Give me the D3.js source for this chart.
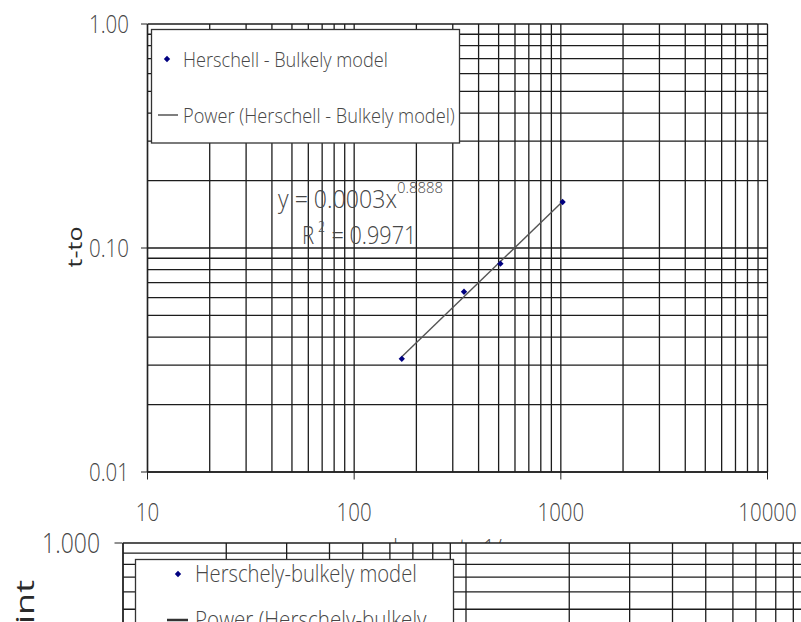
<!DOCTYPE html>
<html>
<head>
<meta charset="utf-8">
<script src="https://cdn.jsdelivr.net/npm/d3@7"></script>
<style>
  body { margin: 0; background: #fff; }
  svg { display: block; }
  text { font-family: "Open Sans", sans-serif; font-weight: 300; }
</style>
</head>
<body>
<svg id="chart" width="801" height="622"></svg>
<script>
// values
const shearRate = [170, 340, 510, 1020];
const tMinusTo = [0.032, 0.0638, 0.0851, 0.1605];
const xTickValues = [10, 100, 1000, 10000];
const yTickValues = [0.01, 0.1, 1];
const seriesName = "Herschell - Bulkely model";
const trendName = "Power (Herschell - Bulkely model)";
const eqCoef = "0.0003", eqExp = "0.8888", eqR2 = "0.9971";

// second chart below, only its top edge shows
const lowerYTicks = [1];
const lowerSeriesName = "Herschely-bulkely model";
const lowerTrendName = "Power (Herschely-bulkely";

const TEXT = "#474747", GRID = "#1c1c1c", NAVY = "#000080";
const SX = 0.82; // the whole picture is squeezed sideways

const svg = d3.select("#chart");
svg.append("rect").attr("width", 801).attr("height", 622).attr("fill", "#fff");

function label(parent, x, y, str, size, anchor, width) {
  const t = parent.append("text")
    .attr("font-size", size)
    .attr("text-anchor", anchor || "start")
    .attr("fill", TEXT)
    .text(str);
  const s = width ? width / t.node().getComputedTextLength() : SX;
  t.attr("transform", `translate(${x},${y}) scale(${s},1)`);
  return t;
}

function diamond(parent, cx, cy) {
  parent.append("path")
    .attr("d", d3.symbol().type(d3.symbolSquare).size(20)())
    .attr("transform", `translate(${cx},${cy}) rotate(45)`)
    .attr("fill", NAVY);
}

function grid(parent, x, y) {
  const [x0, x1] = x.range(), [y0, y1] = y.range();
  parent.append("g").selectAll("line").data(x.ticks()).join("line")
    .attr("x1", d => x(d)).attr("x2", d => x(d))
    .attr("y1", y1).attr("y2", y0)
    .attr("stroke", GRID).attr("stroke-width", 1.3);
  parent.append("g").selectAll("line").data(y.ticks()).join("line")
    .attr("y1", d => y(d)).attr("y2", d => y(d))
    .attr("x1", x0).attr("x2", x1)
    .attr("stroke", GRID).attr("stroke-width", 1.3);
}

// ---------- top chart ----------
const x = d3.scaleLog().domain([10, 10000]).range([147.5, 767.5]);
const y = d3.scaleLog().domain([0.01, 1]).range([472, 24]);
const upper = svg.append("g");

grid(upper, x, y);

upper.append("g")
  .attr("transform", `translate(${x.range()[0] - 0.5},-0.5)`)
  .attr("color", "#222")
  .call(d3.axisLeft(y).tickValues(yTickValues).tickSizeInner(6).tickSizeOuter(0).tickFormat(""));
upper.append("g")
  .attr("transform", `translate(-0.5,${y.range()[0] - 0.5})`)
  .attr("color", "#222")
  .call(d3.axisBottom(x).tickValues(xTickValues).tickSizeInner(8).tickSizeOuter(0).tickFormat(""));
upper.selectAll(".domain").attr("stroke-width", 1.4);

yTickValues.forEach(v => label(upper, 129, y(v) + 9, d3.format(".2f")(v), 25, "end"));
xTickValues.forEach(v => label(upper, x(v), 521, String(v), 25, "middle"));

upper.append("text")
  .attr("font-size", 25).style("font-weight", 400).attr("fill", "#2a2a2a").attr("text-anchor", "middle")
  .attr("transform", `translate(81.5,247) rotate(-90) scale(1,${SX})`)
  .text("t-to");
label(upper, 458, 557, "shear rate 1/sec", 25, "middle");

// power trend line, least squares in log space
const lx = shearRate.map(Math.log), ly = tMinusTo.map(Math.log);
const mx = d3.mean(lx), my = d3.mean(ly);
const slope = d3.sum(lx, (v, i) => (v - mx) * (ly[i] - my)) / d3.sum(lx, v => (v - mx) ** 2);
const coef = Math.exp(my - slope * mx);
const ends = d3.extent(shearRate);
upper.append("path")
  .datum(ends)
  .attr("d", d3.line().x(d => x(d)).y(d => y(coef * Math.pow(d, slope))))
  .attr("stroke", "#555").attr("stroke-width", 1.4).attr("fill", "none");

shearRate.forEach((v, i) => diamond(upper, x(v), y(tMinusTo[i])));

// equation label
label(upper, 278, 208, "y = " + eqCoef + "x", 25, "start", 119);
label(upper, 397, 193, eqExp, 15, "start", 46);
label(upper, 302, 244, "R", 25, "start");
label(upper, 318, 231.5, "2", 15, "start");
label(upper, 331.5, 244, "= " + eqR2, 25, "start", 85);

// legend
const leg = upper.append("g");
leg.append("rect")
  .attr("x", 151.5).attr("y", 29.5).attr("width", 308).attr("height", 113.5)
  .attr("fill", "#fff").attr("stroke", "#333").attr("stroke-width", 1.3);
diamond(leg, 167, 59);
label(leg, 183, 66.5, seriesName, 21, "start", 205);
leg.append("line").attr("x1", 158).attr("x2", 178).attr("y1", 115).attr("y2", 115)
  .attr("stroke", "#555").attr("stroke-width", 1.5);
label(leg, 183, 122.5, trendName, 21, "start", 272);

// ---------- lower chart (cut off by the picture edge) ----------
const x2 = d3.scaleLog().domain([10, 10000]).range([123, 123 + 3 * 343]);
const y2 = d3.scaleLog().domain([0.001, 1]).range([543 + 3 * 220, 543]);
const lower = svg.append("g");

lower.append("rect").attr("x", 123).attr("y", 543).attr("width", 700).attr("height", 100).attr("fill", "#fff");
grid(lower, x2, y2);
lower.append("g")
  .attr("transform", `translate(${x2.range()[0] - 0.5},-0.5)`)
  .attr("color", "#222")
  .call(d3.axisLeft(y2).tickValues(lowerYTicks).tickSizeInner(8).tickSizeOuter(0).tickFormat(""));
lower.selectAll(".domain").attr("stroke-width", 1.4);
lowerYTicks.forEach(v => label(lower, 100, y2(v) + 10, d3.format(".3f")(v), 28, "end"));

lower.append("text")
  .attr("font-size", 36).style("font-weight", 400).attr("fill", "#2a2a2a").attr("text-anchor", "end")
  .attr("transform", `translate(34,580) rotate(-90) scale(1,${SX * 0.85})`)
  .text("yield point");

const leg2 = lower.append("g");
leg2.append("rect")
  .attr("x", 135.5).attr("y", 559.5).attr("width", 318).attr("height", 120)
  .attr("fill", "#fff").attr("stroke", "#333").attr("stroke-width", 1.3);
diamond(leg2, 178, 574);
label(leg2, 195, 581.5, lowerSeriesName, 23, "start", 222);
leg2.append("line").attr("x1", 167).attr("x2", 188).attr("y1", 620).attr("y2", 620)
  .attr("stroke", "#333").attr("stroke-width", 2.5);
label(leg2, 195, 628, lowerTrendName, 23, "start", 222 * 24 / 23);
</script>
</body>
</html>
